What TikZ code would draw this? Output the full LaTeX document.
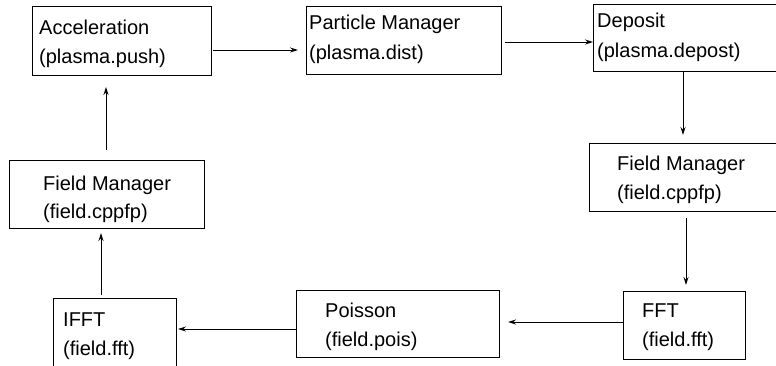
\documentclass[tikz,border=0pt]{standalone}
\usepackage{fontspec}
\setmainfont{Liberation Sans}
\usetikzlibrary{arrows.meta}
\begin{document}
\begin{tikzpicture}[x=1pt,y=-1pt,
  box/.style={draw=black,line width=1pt,rectangle,inner sep=0pt,outer sep=0pt,anchor=north west},
  lbl/.style={anchor=base west,inner sep=0pt,font=\fontsize{20}{24}\selectfont},
  arr/.style={draw=black,line width=1pt,-{Stealth[length=8pt,width=5pt]}}]
\useasboundingbox (0,0) rectangle (776,365);
\clip (0,0) rectangle (776,365);
% boxes
\node[box,minimum width=179pt,minimum height=69pt] (acc) at (32,6) {};
\node[box,minimum width=195pt,minimum height=68pt] (pm) at (306,6) {};
\node[box,minimum width=200pt,minimum height=67pt] (dep) at (593,4) {};
\node[box,minimum width=200pt,minimum height=68pt] (fmr) at (589,143) {};
\node[box,minimum width=122pt,minimum height=68pt] (fft) at (623,291) {};
\node[box,minimum width=203pt,minimum height=67pt] (poi) at (296,290) {};
\node[box,minimum width=123pt,minimum height=100pt] (ifft) at (53,298) {};
\node[box,minimum width=195pt,minimum height=68pt] (fml) at (9,160) {};
% labels
\node[lbl] (accA) at (39,34) {Acceleration};
\node[lbl] (accB) at (39,63) {(plasma.push)};
\node[lbl] (pmA) at (309,29) {Particle Manager};
\node[lbl] (pmB) at (309,59) {(plasma.dist)};
\node[lbl] (depA) at (597,27) {Deposit};
\node[lbl] (depB) at (597,57) {(plasma.depost)};
\node[lbl] (fmrA) at (617,170) {Field Manager};
\node[lbl] (fmrB) at (617,199) {(field.cppfp)};
\node[lbl] (fftA) at (642,317) {FFT};
\node[lbl] (fftB) at (642,346) {(field.fft)};
\node[lbl] (poiA) at (325,317) {Poisson};
\node[lbl] (poiB) at (325,346) {(field.pois)};
\node[lbl] (ifftA) at (63,326) {IFFT};
\node[lbl] (ifftB) at (63,355) {(field.fft)};
\node[lbl] (fmlA) at (43,190) {Field Manager};
\node[lbl] (fmlB) at (43,218) {(field.cppfp)};
% connectors
\draw[arr,shorten <=2pt,shorten >=8pt] (acc.east |- 0,50) -- (pm.west |- 0,50);
\draw[arr,shorten <=4pt] (pm.east |- 0,42) -- (dep.west |- 0,42);
\draw[arr,shorten >=8pt] (dep.south -| 683,0) -- (fmr.north -| 683,0);
\draw[arr,shorten <=7pt,shorten >=6pt] (fmr.south -| 686,0) -- (fft.north -| 686,0);
\draw[arr,shorten >=9pt] (fft.west |- 0,322) -- (poi.east |- 0,322);
\draw[arr,shorten >=2pt] (poi.west |- 0,329) -- (ifft.east |- 0,329);
\draw[arr,shorten <=3pt,shorten >=5pt] (ifft.north -| 101,0) -- (fml.south -| 101,0);
\draw[arr,shorten <=10pt,shorten >=12pt] (fml.north -| 106,0) -- (acc.south -| 106,0);
\end{tikzpicture}
\end{document}
